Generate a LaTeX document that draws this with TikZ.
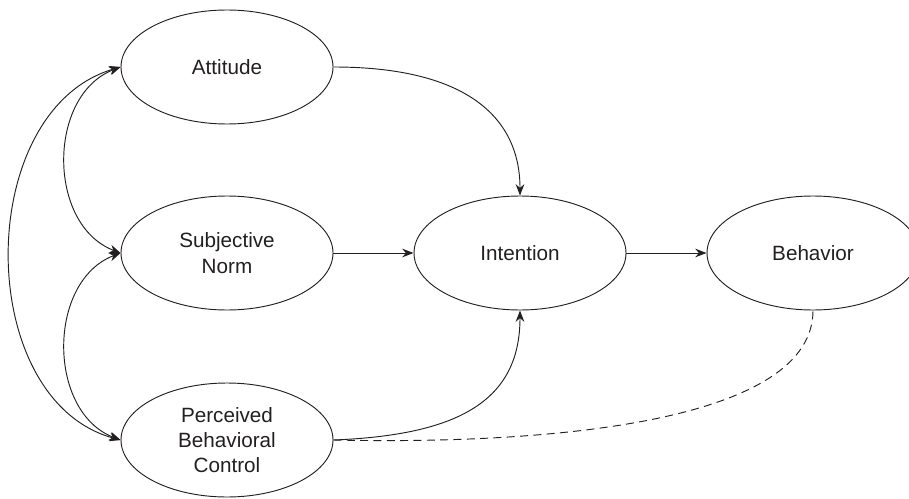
\documentclass[tikz,border=0pt]{standalone}
\usepackage{fontspec}
\setmainfont{Liberation Sans}
\usetikzlibrary{shapes.geometric,arrows.meta}
\definecolor{ink}{HTML}{231F20}
\begin{document}
\begin{tikzpicture}[x=0.75pt,y=-0.75pt,
  construct/.style={ellipse,draw=ink,line width=0.7pt,minimum width=159pt,minimum height=85.5pt,inner sep=0pt,align=center,text=ink,font=\fontsize{15.5}{19}\selectfont},
  link/.style={draw=ink,line width=0.7pt,-{Stealth[length=8.5pt,width=6.5pt]}},
  biarrow/.style={draw=ink,line width=0.7pt,{Stealth[length=8.5pt,width=6.5pt]}-{Stealth[length=8.5pt,width=6.5pt]}},
  feedback/.style={draw=ink,line width=0.7pt,dashed,dash pattern=on 6pt off 4pt}]
\useasboundingbox (0,0) rectangle (909,499);
\clip (0,0) rectangle (909,499);
\node[construct] (att) at (227,67) {Attitude};
\node[construct] (sn) at (227,253) {Subjective\\Norm};
\node[construct] (pbc) at (227,440) {Perceived\\Behavioral\\Control};
\node[construct] (int) at (520,253) {Intention};
\node[construct] (beh) at (813,253) {Behavior};
\draw[link] (att.east) .. controls (470,67) and (520,120) .. (int.north);
\draw[link] (sn.east) -- (int.west);
\draw[link] (int.east) -- (beh.west);
\draw[link] (pbc.east) .. controls (460,435) and (520,400) .. (int.south);
\draw[feedback] (pbc.east) .. controls (560,445) and (813,420) .. (beh.south);
\draw[biarrow] (att.west) .. controls (47,95) and (47,225) .. (sn.west);
\draw[biarrow] (sn.west) .. controls (47,281) and (47,412) .. (pbc.west);
\draw[biarrow] (att.west) .. controls (-27,110) and (-27,400) .. (pbc.west);
\end{tikzpicture}
\end{document}
